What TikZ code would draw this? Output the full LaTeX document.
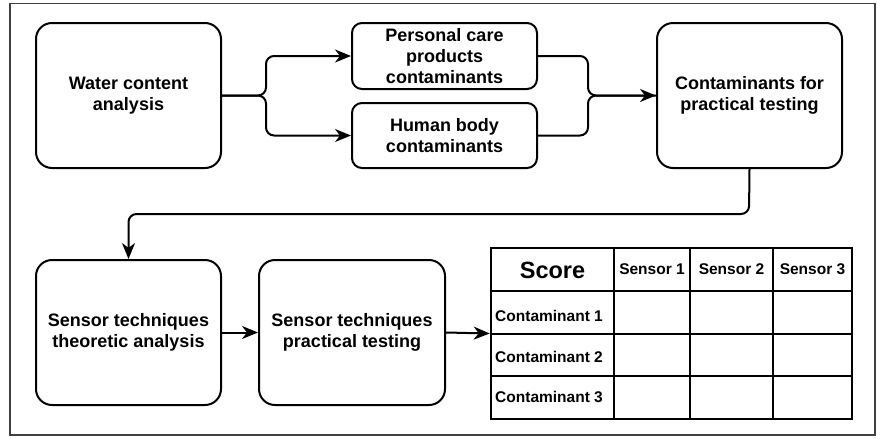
\documentclass[tikz,border=0pt]{standalone}
\usepackage{fontspec}
\setmainfont{Liberation Sans}
\usetikzlibrary{arrows.meta}
\begin{document}
\begin{tikzpicture}[x=1pt,y=-1pt,
  box/.style={draw=black, line width=2pt, rounded corners=16pt, align=center, font=\fontsize{18}{21}\selectfont\bfseries, inner sep=0pt},
  sbox/.style={box, rounded corners=10pt},
  conn/.style={line width=2pt, rounded corners=8pt},
  arr/.style={conn, -{Stealth[length=16pt,width=13pt,inset=5pt]}},
  hdr/.style={font=\fontsize{15.5}{18}\selectfont\bfseries, inner sep=0pt},
  rowlbl/.style={font=\fontsize{15.5}{18}\selectfont\bfseries, inner sep=0pt, anchor=west}
]
\useasboundingbox (0,0) rectangle (877,437);
\fill[white] (0,0) rectangle (877,437);
\draw[line width=1.6pt, draw=black!75] (10,3.5) rectangle (875,435);

\node[box, minimum width=185pt, minimum height=145pt] (water) at (128.5,95.5) {Water content\\analysis};
\node[sbox, minimum width=185pt, minimum height=66pt] (personal) at (444.5,56) {Personal care\\products\\contaminants};
\node[sbox, minimum width=185pt, minimum height=65pt] (human) at (444.5,135.5) {Human body\\contaminants};
\node[box, minimum width=185pt, minimum height=145pt] (contam) at (749.5,95.5) {Contaminants for\\practical testing};
\node[box, minimum width=185pt, minimum height=145pt] (theo) at (128.5,332.5) {Sensor techniques\\theoretic analysis};
\node[box, minimum width=186pt, minimum height=145pt] (prac) at (352,332.5) {Sensor techniques\\practical testing};

% table
\node[draw=black, line width=2.6pt, minimum width=361pt, minimum height=171pt, inner sep=0pt] (tbl) at (671.5,333.5) {};
\draw[line width=1.2pt] (tbl.north west |- 0,334) -- (tbl.north east |- 0,334);
\draw[line width=1.2pt] (tbl.north west |- 0,376) -- (tbl.north east |- 0,376);
\draw[line width=1.2pt] (690,0 |- tbl.north) -- (690,0 |- tbl.south);
\draw[line width=1.2pt] (773,0 |- tbl.north) -- (773,0 |- tbl.south);
\draw[line width=2.2pt] (tbl.north west |- 0,291) -- (tbl.north east |- 0,291);
\draw[line width=2.2pt] (614,0 |- tbl.north) -- (614,0 |- tbl.south);

\node[font=\fontsize{23.5}{26}\selectfont\bfseries, inner sep=0pt] (score) at (552.5,270) {Score};
\node[hdr] (s1) at (652,269.5) {Sensor 1};
\node[hdr] (s2) at (731.5,269.5) {Sensor 2};
\node[hdr] (s3) at (812.5,269.5) {Sensor 3};
\node[rowlbl] (c1) at (495,316) {Contaminant 1};
\node[rowlbl] (c2) at (495,357) {Contaminant 2};
\node[rowlbl] (c3) at (495,397) {Contaminant 3};

% connectors
\coordinate (split) at (266,95.5);
\coordinate (merge) at (588,95.5);
\coordinate (fb) at (749,214);
\draw[arr] (water.east) -- (split) |- (personal.west);
\draw[arr] (water.east) -- (split) |- (human.west);
\draw[conn] (human.east) -| (merge) -- (contam.west);
\draw[arr] (personal.east) -| (merge) -- (contam.west);
\draw[arr] (contam.south) -- (fb) -| (theo.north);
\draw[arr] (theo.east) -- (prac.west);
\draw[arr] (prac.east) -- (tbl.west);
\end{tikzpicture}
\end{document}
